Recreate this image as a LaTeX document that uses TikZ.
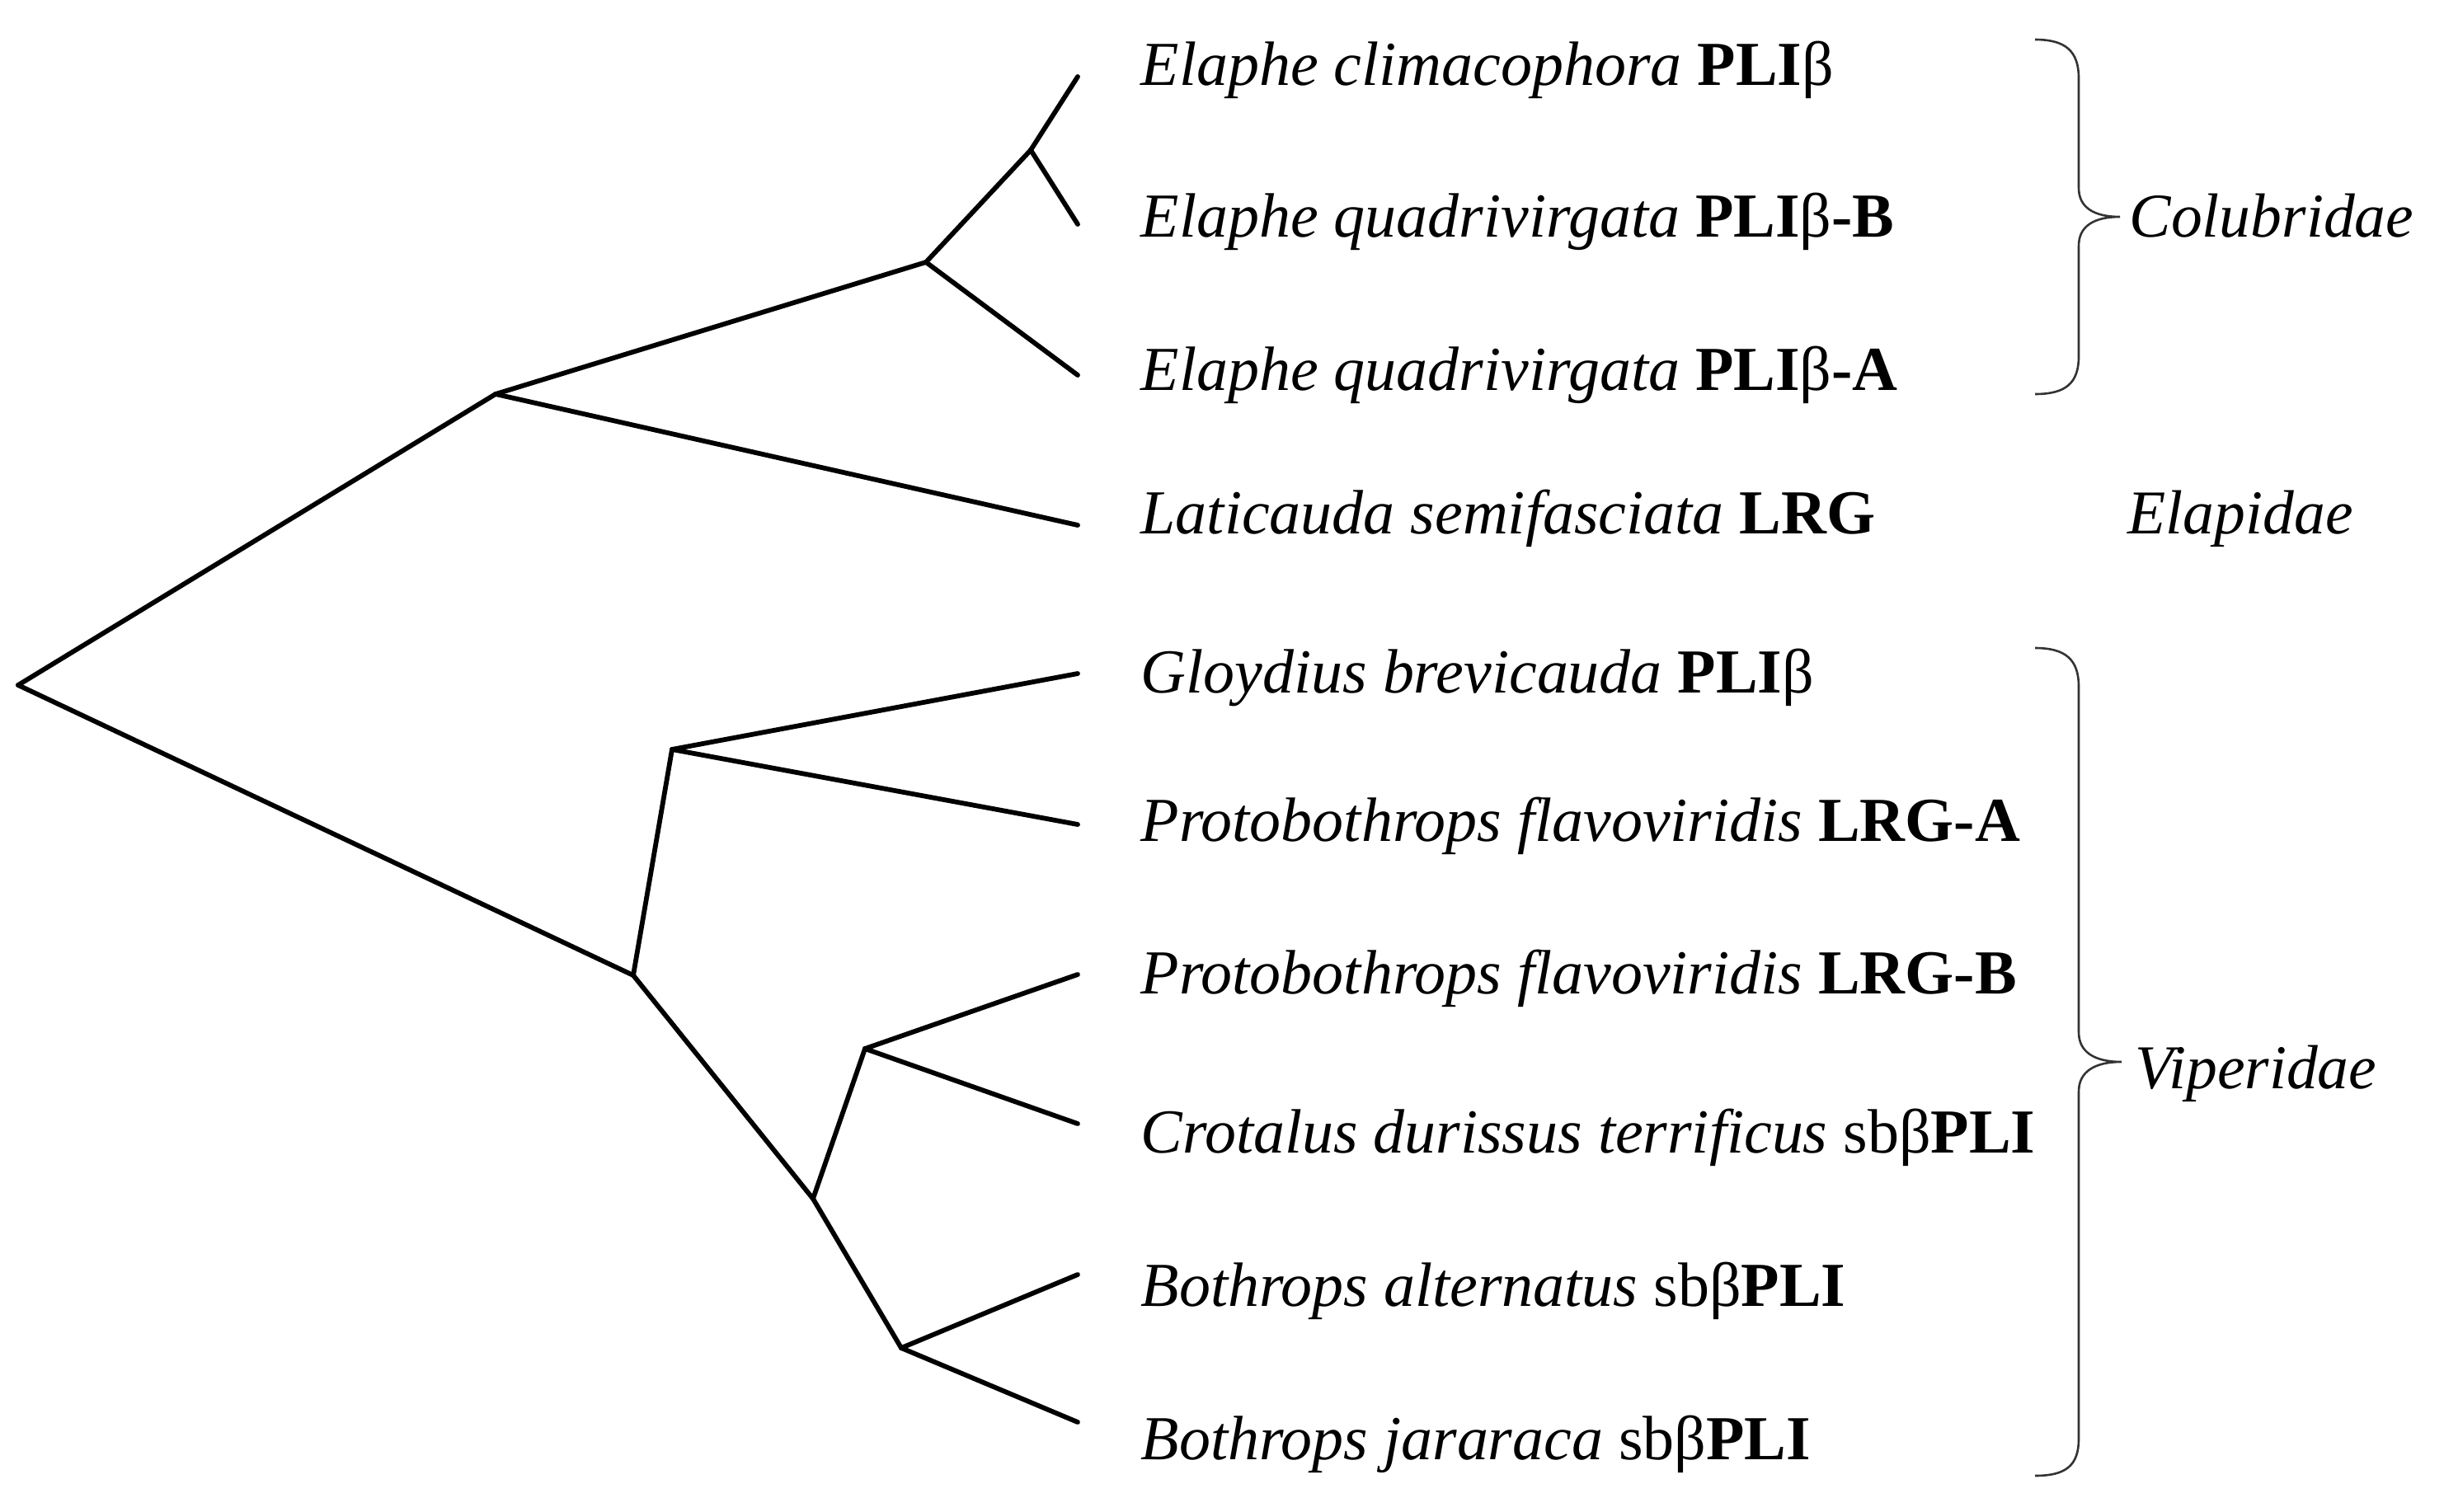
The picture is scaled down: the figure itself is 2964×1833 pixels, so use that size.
\documentclass[tikz,border=0pt]{standalone}
\usepackage{fontspec}
\setmainfont{Liberation Serif}
\begin{document}
\begin{tikzpicture}[x=0.01cm,y=-0.01cm,
  branch/.style={line width=0.058cm, line cap=round, line join=round},
  bracepath/.style={line width=0.026cm, draw=black!80},
  leaf/.style={anchor=base west, inner sep=0pt, font=\fontsize{21.6}{25}\selectfont},
  fam/.style={anchor=base west, inner sep=0pt, font=\fontsize{21.5}{25}\selectfont\itshape}]
\useasboundingbox (0,0) rectangle (2964,1833);
% tree nodes
\coordinate (root) at (22,831);
\coordinate (A) at (601,478);
\coordinate (B) at (1123,318);
\coordinate (C) at (1250,182);
\coordinate (L1) at (1307,93);
\coordinate (L2) at (1307,272);
\coordinate (L3) at (1307,455);
\coordinate (L4) at (1307,637);
\coordinate (D) at (768,1183);
\coordinate (E) at (815,909);
\coordinate (L5) at (1307,817);
\coordinate (L6) at (1307,1000);
\coordinate (F) at (986,1454);
\coordinate (G) at (1049,1272);
\coordinate (L7) at (1307,1182);
\coordinate (L8) at (1307,1363);
\coordinate (H) at (1093,1635);
\coordinate (L9) at (1307,1546);
\coordinate (L10) at (1307,1725);
% branches
\draw[branch] (root) -- (A);
\draw[branch] (root) -- (D);
\draw[branch] (A) -- (B);
\draw[branch] (A) -- (L4);
\draw[branch] (B) -- (C);
\draw[branch] (B) -- (L3);
\draw[branch] (C) -- (L1);
\draw[branch] (C) -- (L2);
\draw[branch] (D) -- (E);
\draw[branch] (D) -- (F);
\draw[branch] (E) -- (L5);
\draw[branch] (E) -- (L6);
\draw[branch] (F) -- (G);
\draw[branch] (F) -- (H);
\draw[branch] (G) -- (L7);
\draw[branch] (G) -- (L8);
\draw[branch] (H) -- (L9);
\draw[branch] (H) -- (L10);
% labels
\node[leaf] (t1) at (1383,103) {\textit{Elaphe climacophora} \textbf{PLI}β};
\node[leaf] (t2) at (1383,287) {\textit{Elaphe quadrivirgata} \textbf{PLI}β\textbf{-B}};
\node[leaf] (t3) at (1383,473) {\textit{Elaphe quadrivirgata} \textbf{PLI}β\textbf{-A}};
\node[leaf] (t4) at (1383,647) {\textit{Laticauda semifasciata} \textbf{LRG}};
\node[leaf] (t5) at (1383,840) {\textit{Gloydius brevicauda} \textbf{PLI}β};
\node[leaf] (t6) at (1383,1020) {\textit{Protobothrops flavoviridis} \textbf{LRG-A}};
\node[leaf] (t7) at (1383,1205) {\textit{Protobothrops flavoviridis} \textbf{LRG-B}};
\node[leaf] (t8) at (1383,1398) {\textit{Crotalus durissus terrificus} sbβ\textbf{PLI}};
\node[leaf] (t9) at (1383,1584) {\textit{Bothrops alternatus} sbβ\textbf{PLI}};
\node[leaf] (t10) at (1383,1770) {\textit{Bothrops jararaca} sbβ\textbf{PLI}};
% family labels
\node[fam] (colub) at (2582,287) {Colubridae};
\node[fam] (elap) at (2580,647) {Elapidae};
\node[fam] (viper) at (2589,1320) {Viperidae};
% braces
\coordinate (cb1) at (2468,48);
\coordinate (cbt) at (2571,263);
\coordinate (cb2) at (2468,478);
\draw[bracepath] (cb1) .. controls (2505,48) and (2521,62) .. (2521,95)
  -- (2521,228) .. controls (2521,252) and (2540,263) .. (cbt)
  .. controls (2540,263) and (2521,274) .. (2521,298)
  -- (2521,432) .. controls (2521,465) and (2505,478) .. (cb2);
\coordinate (vb1) at (2468,786);
\coordinate (vbt) at (2573,1288);
\coordinate (vb2) at (2468,1790);
\draw[bracepath] (vb1) .. controls (2505,786) and (2521,800) .. (2521,833)
  -- (2521,1252) .. controls (2521,1276) and (2540,1288) .. (vbt)
  .. controls (2540,1288) and (2521,1300) .. (2521,1324)
  -- (2521,1745) .. controls (2521,1778) and (2505,1790) .. (vb2);
\end{tikzpicture}
\end{document}
